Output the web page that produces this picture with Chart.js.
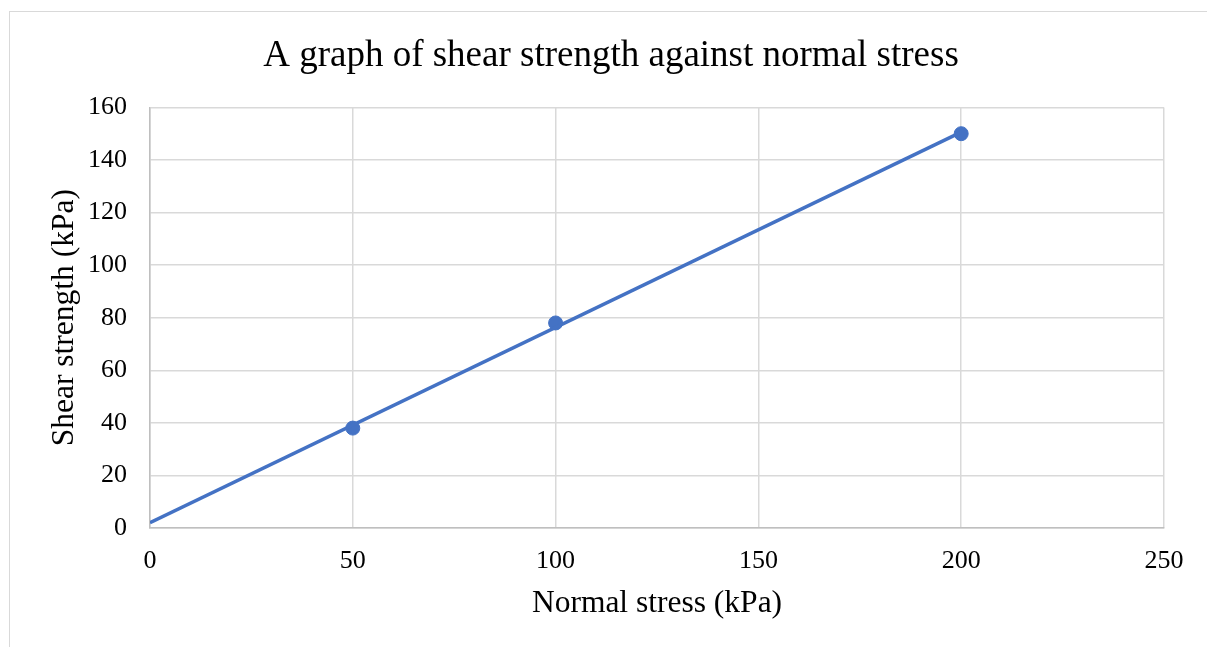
<!DOCTYPE html>
<html lang="en">
<head>
<meta charset="UTF-8">
<title>A graph of shear strength against normal stress</title>
<script src="https://cdn.jsdelivr.net/npm/chart.js"></script>
<style>
    html, body { margin: 0; padding: 0; background: #fff; overflow: hidden; }
    .frame { position: absolute; left: 9px; top: 11px; width: 1300px; height: 700px; border: 1px solid #d9d9d9; }
    #chart { position: absolute; left: 0; top: 0; }
</style>
</head>
<body>
<div class="frame"></div>
<canvas id="chart" width="1207" height="647"></canvas>
<script>
// measured points
const normalStress = [50, 100, 200];
const shearStrength = [38, 78, 150];

// linear trendline ends
const trendX = [0, 200];
const trendY = [2, 150.6];

const xTicks = { min: 0, max: 250, step: 50 };
const yTicks = { min: 0, max: 160, step: 20 };

const serif = "'Liberation Serif', 'Times New Roman', serif";
const blue = '#4472C4';
const gridGrey = '#d9d9d9';

new Chart(document.getElementById('chart').getContext('2d'), {
    type: 'scatter',
    data: {
        datasets: [
            {
                label: 'Trend',
                type: 'line',
                data: trendX.map((x, i) => ({ x: x, y: trendY[i] })),
                borderColor: blue,
                borderWidth: 3.5,
                pointRadius: 0,
                fill: false
            },
            {
                label: 'Shear strength',
                data: normalStress.map((x, i) => ({ x: x, y: shearStrength[i] })),
                backgroundColor: blue,
                borderColor: blue,
                pointRadius: 7,
                pointHoverRadius: 7
            }
        ]
    },
    options: {
        responsive: false,
        animation: false,
        devicePixelRatio: 1,
        layout: { padding: { left: 58, right: 43, top: 0, bottom: 0 } },
        plugins: {
            legend: { display: false },
            tooltip: { enabled: false },
            title: {
                display: true,
                text: 'A graph of shear strength against normal stress',
                color: '#000',
                font: { family: serif, size: 37, weight: 'normal' },
                padding: { top: 34, bottom: 29 }
            }
        },
        scales: {
            x: {
                type: 'linear',
                min: xTicks.min,
                max: xTicks.max,
                afterFit: s => { s.height = 119; },
                ticks: {
                    stepSize: xTicks.step,
                    color: '#000',
                    padding: 18,
                    font: { family: serif, size: 26 }
                },
                grid: { color: gridGrey, lineWidth: 1.5, drawTicks: false },
                border: { color: '#bfbfbf', width: 1.5 },
                title: {
                    display: true,
                    text: 'Normal stress (kPa)',
                    color: '#000',
                    font: { family: serif, size: 31.5 },
                    padding: { top: 0, bottom: 24.5 }
                }
            },
            y: {
                type: 'linear',
                min: yTicks.min,
                max: yTicks.max,
                afterFit: s => { s.width = 92; },
                ticks: {
                    stepSize: yTicks.step,
                    color: '#000',
                    padding: 23,
                    font: { family: serif, size: 26 }
                },
                grid: { color: gridGrey, lineWidth: 1.5, drawTicks: false },
                border: { color: '#bfbfbf', width: 1.5 },
                title: {
                    display: true,
                    text: 'Shear strength (kPa)',
                    color: '#000',
                    font: { family: serif, size: 31.5 },
                    padding: { top: -12, bottom: 0 }
                }
            }
        }
    }
});
</script>
</body>
</html>
